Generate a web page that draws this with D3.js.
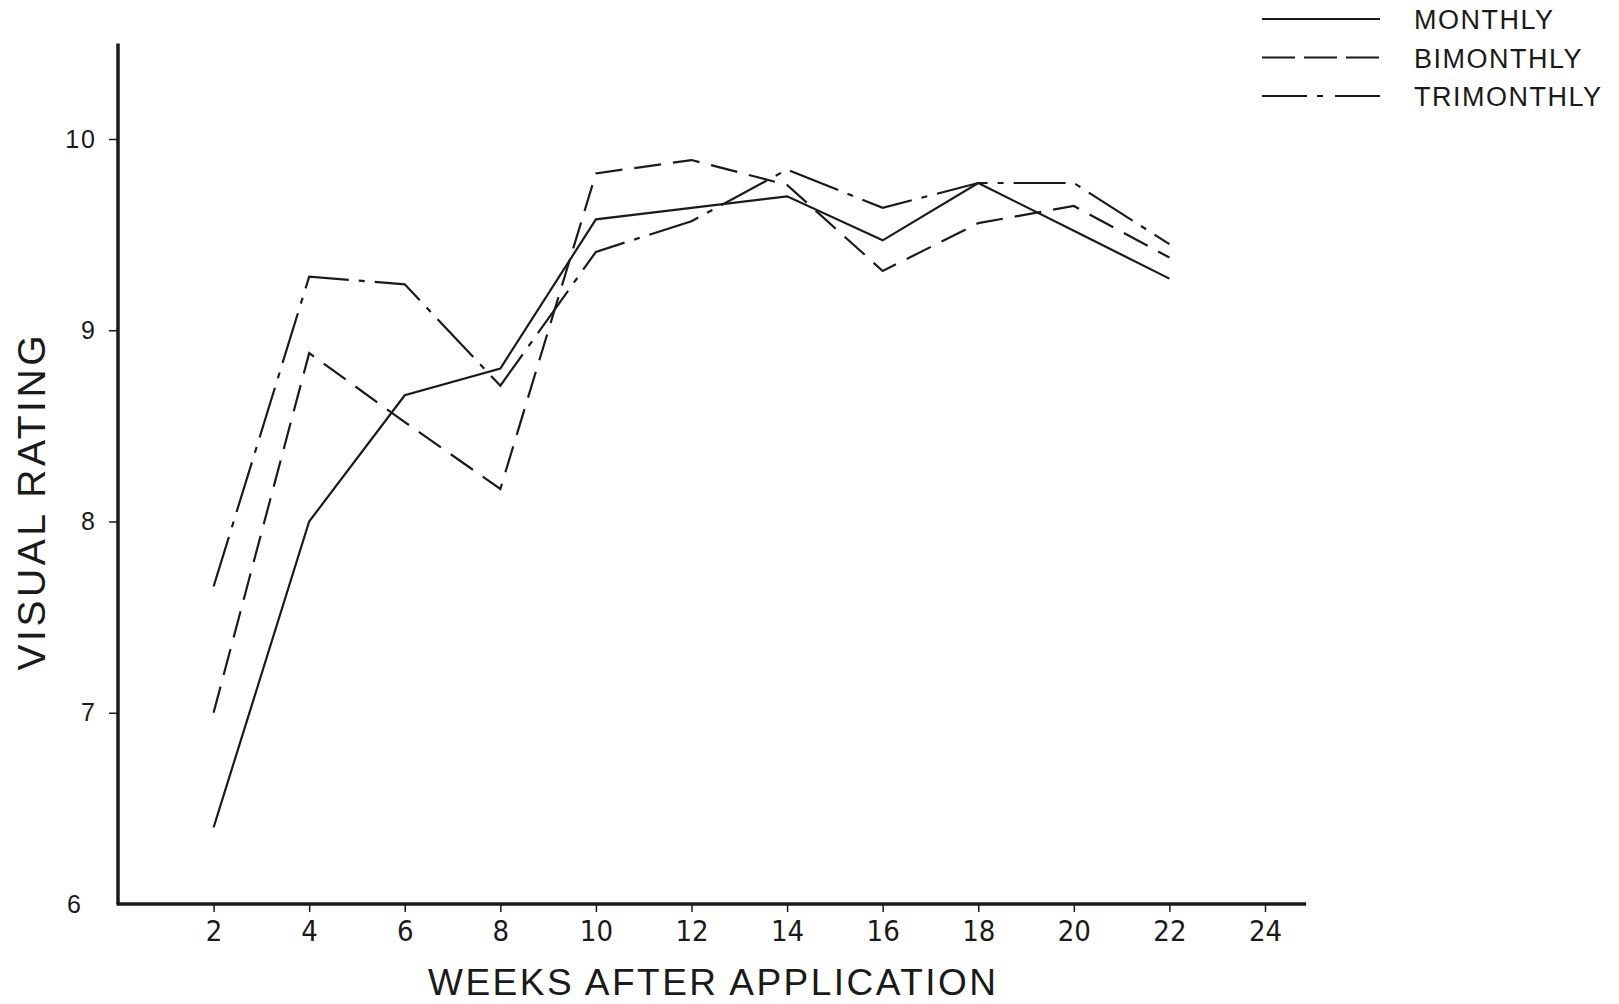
<!DOCTYPE html>
<html>
<head>
<meta charset="utf-8">
<script src="https://cdn.jsdelivr.net/npm/d3@7"></script>
<style>
  html, body { margin: 0; padding: 0; background: #fff; }
  svg { display: block; }
  .tick-label { fill: #1a1a1a; font-family: "Liberation Sans", "DejaVu Sans", sans-serif; }
  .title { fill: #1a1a1a; font-family: "Liberation Sans", "DejaVu Sans", sans-serif; }
</style>
</head>
<body>
<svg id="chart" width="1619" height="1004"></svg>
<script>
const weeks = [2, 4, 6, 8, 10, 12, 14, 16, 18, 20, 22];
const monthly = [6.40, 8.00, 8.66, 8.80, 9.58, 9.64, 9.70, 9.47, 9.77, 9.52, 9.27];
const bimonthly = [7.00, 8.88, 8.52, 8.17, 9.82, 9.89, 9.76, 9.31, 9.56, 9.65, 9.38];
const trimonthly = [7.66, 9.28, 9.24, 8.71, 9.41, 9.57, 9.84, 9.64, 9.77, 9.77, 9.45];

const xTicks = [2, 4, 6, 8, 10, 12, 14, 16, 18, 20, 22, 24];
const yTicks = [6, 7, 8, 9, 10];
const seriesNames = ["MONTHLY", "BIMONTHLY", "TRIMONTHLY"];

const DASH = {
  MONTHLY: null,
  BIMONTHLY: "27,12",
  TRIMONTHLY: "52,10,6,10"
};
const INK = "#1a1a1a";

const svg = d3.select("#chart");

const x = d3.scaleLinear().domain([0, 24]).range([118, 1265]);
const y = d3.scaleLinear().domain([6, 10]).range([904, 139]);

// axis lines (extend past the last tick like the original)
svg.append("line")
  .attr("x1", x(0)).attr("x2", x(0))
  .attr("y1", y(6)).attr("y2", y(10.5))
  .attr("stroke", INK).attr("stroke-width", 3.5);

svg.append("line")
  .attr("x1", x(0) - 1.5).attr("x2", x(24.86))
  .attr("y1", y(6)).attr("y2", y(6))
  .attr("stroke", INK).attr("stroke-width", 3.5);

// x axis ticks
const xAxis = svg.append("g")
  .attr("transform", `translate(0,${y(6)})`)
  .call(d3.axisBottom(x).tickValues(xTicks).tickSize(8).tickSizeOuter(0).tickPadding(8));
xAxis.select(".domain").remove();
xAxis.selectAll(".tick line").attr("stroke", INK).attr("stroke-width", 1.5);
xAxis.selectAll(".tick text")
  .attr("class", "tick-label")
  .style("font-family", "'Liberation Sans Narrow', 'DejaVu Sans Condensed', sans-serif")
  .style("font-size", "29px")
  .attr("fill", INK);

// y axis ticks
const yAxis = svg.append("g")
  .attr("transform", `translate(${x(0)},0)`)
  .call(d3.axisLeft(y).tickValues(yTicks).tickFormat(d3.format("d"))
    .tickSize(9).tickSizeOuter(0).tickPadding(12));
yAxis.select(".domain").remove();
yAxis.selectAll(".tick line")
  .attr("stroke", INK).attr("stroke-width", 1.5)
  .attr("opacity", d => d === 6 ? 0 : 1);
yAxis.selectAll(".tick text")
  .attr("class", "tick-label")
  .style("font-size", "25px")
  .style("letter-spacing", "2px")
  .attr("fill", INK)
  .attr("dx", d => d === 6 ? -14 : 0);

// axis titles
svg.append("text")
  .attr("class", "title")
  .attr("x", 712).attr("y", 995)
  .attr("text-anchor", "middle")
  .attr("textLength", 568)
  .attr("lengthAdjust", "spacing")
  .style("font-size", "37px")
  .text("WEEKS AFTER APPLICATION");

svg.append("text")
  .attr("class", "title")
  .attr("transform", "translate(45,503) rotate(-90)")
  .attr("text-anchor", "middle")
  .attr("textLength", 335)
  .attr("lengthAdjust", "spacing")
  .style("font-size", "39px")
  .text("VISUAL RATING");

// series lines
const series = [
  { name: "MONTHLY", values: monthly },
  { name: "BIMONTHLY", values: bimonthly },
  { name: "TRIMONTHLY", values: trimonthly }
];

const line = d3.line()
  .x((d, i) => x(weeks[i]))
  .y(d => y(d));

svg.append("g")
  .selectAll("path")
  .data(series)
  .join("path")
  .attr("d", d => line(d.values))
  .attr("fill", "none")
  .attr("stroke", INK)
  .attr("stroke-width", 2.2)
  .attr("stroke-linejoin", "miter")
  .attr("stroke-dasharray", d => DASH[d.name]);

// legend
const legend = svg.append("g")
  .selectAll("g")
  .data(seriesNames)
  .join("g")
  .attr("transform", (d, i) => `translate(0,${19 + i * 38.5})`);

legend.append("line")
  .attr("x1", 1262).attr("x2", 1380)
  .attr("y1", 0).attr("y2", 0)
  .attr("stroke", INK).attr("stroke-width", 2.2)
  .attr("stroke-dasharray", d => d === "BIMONTHLY" ? "33,9" : d === "TRIMONTHLY" ? "45,10,6,12" : null);

legend.append("text")
  .attr("class", "title")
  .attr("x", 1414).attr("y", 10)
  .style("font-size", "27px")
  .style("letter-spacing", "1.5px")
  .text(d => d);
</script>
</body>
</html>
